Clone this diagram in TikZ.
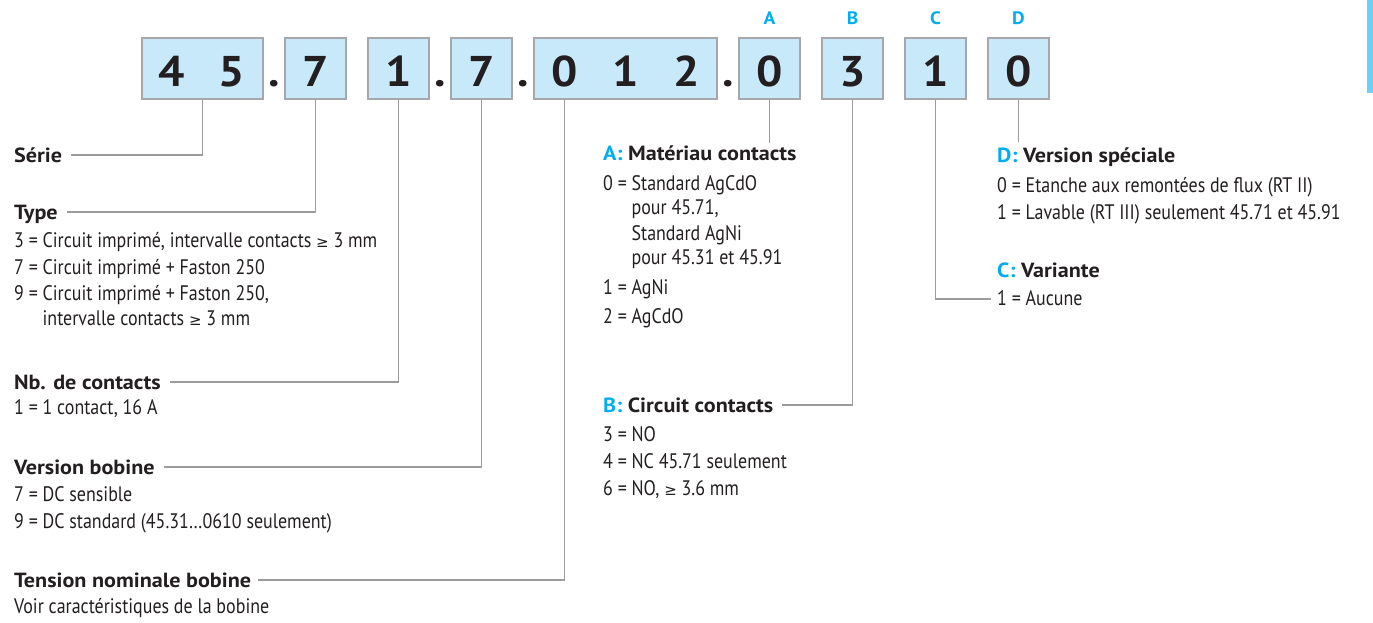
\documentclass[tikz,border=0pt]{standalone}
\usepackage{fontspec}
\setmainfont[FakeStretch=0.855]{PT Sans}
\newfontfamily\hdrf[FakeStretch=1.08]{PT Sans}
\newfontfamily\symf{DejaVu Sans}
\newcommand{\gesym}{{\symf\fontsize{15}{15}\selectfont ≥}}
\definecolor{boxfill}{HTML}{C8E9F9}
\definecolor{boxline}{HTML}{A5A7AA}
\definecolor{lead}{HTML}{9C9C9C}
\definecolor{txt}{HTML}{231F20}
\definecolor{cyanl}{HTML}{00AEEF}
\definecolor{barc}{HTML}{6CCFF6}
\begin{document}
\begin{tikzpicture}[x=1pt,y=-1pt,
 dbox/.style={draw=boxline,line width=1.4pt,fill=boxfill,minimum height=61pt,inner sep=0pt},
 digit/.style={anchor=base,font=\hdrf\bfseries\fontsize{43}{43}\selectfont,text=txt,inner sep=0pt},
 letter/.style={anchor=base,font=\hdrf\bfseries\fontsize{18}{18}\selectfont,text=cyanl,inner sep=0pt},
 hdr/.style={anchor=base west,font=\hdrf\bfseries\fontsize{20.5}{20.5}\selectfont,text=txt,inner sep=0pt},
 item/.style={anchor=base west,font=\fontsize{21}{21}\selectfont,text=txt,inner sep=0pt},
 leader/.style={draw=lead,line width=1.1pt}]
\useasboundingbox (0,0) rectangle (1373,622);
\fill[barc] (1367,0) rectangle (1373,93);
% boxes
\node[dbox,minimum width=121pt] (b45) at (202.5,68.5) {};
\node[dbox,minimum width=61pt] (b7a) at (315.5,68.5) {};
\node[dbox,minimum width=61pt] (b1) at (398.5,68.5) {};
\node[dbox,minimum width=61pt] (b7b) at (481.5,68.5) {};
\node[dbox,minimum width=183pt] (b012) at (625.5,68.5) {};
\node[dbox,minimum width=61pt] (bA) at (769.5,68.5) {};
\node[dbox,minimum width=61pt] (bB) at (852.5,68.5) {};
\node[dbox,minimum width=61pt] (bC) at (935.5,68.5) {};
\node[dbox,minimum width=61pt] (bD) at (1018.5,68.5) {};
% digits
\node[digit] (d4) at (172,86) {4};
\node[digit] (d5) at (232,86) {5};
\node[digit] (p1) at (274,86) {.};
\node[digit] (d7a) at (315.5,86) {7};
\node[digit] (d1) at (398.5,86) {1};
\node[digit] (p2) at (440,86) {.};
\node[digit] (d7b) at (481.5,86) {7};
\node[digit] (p3) at (523,86) {.};
\node[digit] (d0a) at (564.5,86) {0};
\node[digit] (d1b) at (625.5,86) {1};
\node[digit] (d2) at (686.5,86) {2};
\node[digit] (p4) at (728,86) {.};
\node[digit] (dA) at (769.5,86) {0};
\node[digit] (dB) at (852.5,86) {3};
\node[digit] (dC) at (935.5,86) {1};
\node[digit] (dD) at (1018.5,86) {0};
% letters
\node[letter] (lA) at (769.5,24) {A};
\node[letter] (lB) at (852.5,24) {B};
\node[letter] (lC) at (935.5,24) {C};
\node[letter] (lD) at (1018.5,24) {D};
% left texts
\node[hdr] (serie) at (14,162) {Série};
\node[hdr] (type) at (14,219) {Type};
\node[item] (t3) at (14,247) {3 = Circuit imprimé, intervalle contacts \gesym{} 3 mm};
\node[item] (t7) at (14,274) {7 = Circuit imprimé + Faston 250};
\node[item] (t9) at (14,300) {9 = Circuit imprimé + Faston 250,};
\node[item] (t9b) at (14,325) {\hphantom{9 = }intervalle contacts \gesym{} 3 mm};
\node[hdr] (nb) at (14,389) {Nb. de contacts};
\node[item] (nb1) at (14,414) {1 = 1 contact, 16 A};
\node[hdr] (vb) at (14,474) {Version bobine};
\node[item] (vb7) at (14,501) {7 = DC sensible};
\node[item] (vb9) at (14,528) {9 = DC standard (45.31…0610 seulement)};
\node[hdr] (tn) at (14,587) {Tension nominale bobine};
\node[item] (tn1) at (14,613) {Voir caractéristiques de la bobine};
% A
\node[hdr] (ah) at (603,160) {{\color{cyanl}A:} Matériau contacts};
\node[item] (a0) at (603,190) {0 = Standard AgCdO};
\node[item] (a0b) at (603,214) {\hphantom{0 = }pour 45.71,};
\node[item] (a0c) at (603,240) {\hphantom{0 = }Standard AgNi};
\node[item] (a0d) at (603,264) {\hphantom{0 = }pour 45.31 et 45.91};
\node[item] (a1) at (603,294) {1 = AgNi};
\node[item] (a2) at (603,323) {2 = AgCdO};
% B
\node[hdr] (bh) at (603,412) {{\color{cyanl}B:} Circuit contacts};
\node[item] (b3) at (603,441) {3 = NO};
\node[item] (b4) at (603,468) {4 = NC 45.71 seulement};
\node[item] (b6) at (603,495) {6 = NO, \gesym{} 3.6 mm};
% D
\node[hdr] (dh) at (997,162) {{\color{cyanl}D:} Version spéciale};
\node[item] (dd0) at (997,192) {0 = Etanche aux remontées de flux (RT II)};
\node[item] (dd1) at (997,219) {1 = Lavable (RT III) seulement 45.71 et 45.91};
% C
\node[hdr] (ch) at (997,277) {{\color{cyanl}C:} Variante};
\node[item] (cc1) at (997,305) {1 = Aucune};
% leaders
\coordinate (aEnd) at (769.5,143);
\coordinate (dEnd) at (1018.5,142);
\draw[leader] (b45.south) |- ([shift={(9pt,7pt)}]serie.base east);
\draw[leader] (b7a.south) |- ([shift={(9pt,7pt)}]type.base east);
\draw[leader] (b1.south) |- ([shift={(9pt,7pt)}]nb.base east);
\draw[leader] (b7b.south) |- ([shift={(9pt,7pt)}]vb.base east);
\draw[leader] (b012.south -| d0a) |- ([shift={(7pt,7pt)}]tn.base east);
\draw[leader] (bA.south) -- (aEnd);
\draw[leader] (bB.south) |- ([shift={(9pt,7pt)}]bh.base east);
\draw[leader] (bC.south) |- ([shift={(-6pt,6pt)}]cc1.base west);
\draw[leader] (bD.south) -- (dEnd);
\end{tikzpicture}
\end{document}
